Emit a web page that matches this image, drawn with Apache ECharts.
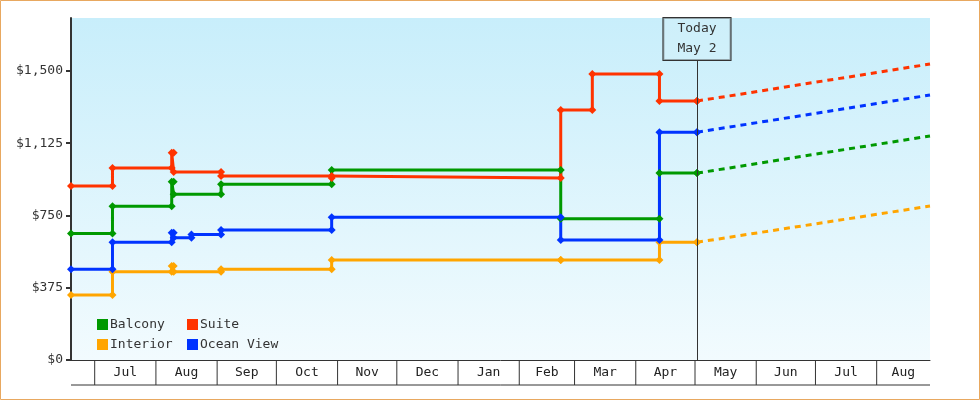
<!DOCTYPE html>
<html><head><meta charset="utf-8">
<script src="https://cdn.jsdelivr.net/npm/echarts@6/dist/echarts.min.js"></script>
<style>html,body{margin:0;padding:0;background:#fff}#c{width:980px;height:400px}</style>
</head><body><div id="c"></div>
<script>
const suiteDates = ['2024-06-19','2024-07-10','2024-08-09','2024-08-10','2024-09-03','2024-10-29','2025-02-22','2025-03-10','2025-04-13','2025-05-02'];
const suiteVals  = [903, 997, 1075, 976, 955, 945, 1298, 1484, 1344, 1344];
const balconyDates = ['2024-06-19','2024-07-10','2024-08-09','2024-08-10','2024-09-03','2024-10-29','2025-02-22','2025-04-13','2025-05-02'];
const balconyVals  = [657, 798, 925, 860, 912, 986, 733, 970, 970];
const oceanDates = ['2024-06-19','2024-07-10','2024-08-09','2024-08-10','2024-08-19','2024-09-03','2024-10-29','2025-02-22','2025-04-13','2025-05-02'];
const oceanVals  = [471, 611, 660, 635, 652, 675, 741, 623, 1182, 1182];
const interiorDates = ['2024-06-19','2024-07-10','2024-08-09','2024-08-10','2024-09-03','2024-10-29','2025-02-22','2025-04-13','2025-05-02'];
const interiorVals  = [337, 458, 488, 458, 471, 519, 519, 611, 611];
const forecastEnd = '2025-08-28';
const forecastVals = {Suite: 1536, Balcony: 1163, 'Ocean View': 1375, Interior: 799};
const today = '2025-05-02';
const monthStarts = ['2024-07-01','2024-08-01','2024-09-01','2024-10-01','2024-11-01','2024-12-01','2025-01-01','2025-02-01','2025-03-01','2025-04-01','2025-05-01','2025-06-01','2025-07-01','2025-08-01','2025-08-28'];
const monthLabels = ['Jul','Aug','Sep','Oct','Nov','Dec','Jan','Feb','Mar','Apr','May','Jun','Jul','Aug'];
const yTicks = [0, 375, 750, 1125, 1500];

const colors = {Balcony:'#009900', Suite:'#ff3300', Interior:'#ffa500', 'Ocean View':'#0033ff'};
const font = 'DejaVu Sans Mono';
function ts(d){ return new Date(d + 'T00:00:00Z').getTime(); }
function stepPts(dates, vals){
  const out = [];
  dates.forEach((d,i)=>{ if(i>0) out.push([ts(d), vals[i-1]]); out.push([ts(d), vals[i]]); });
  return out;
}
const defs = [['Balcony',balconyDates,balconyVals],['Suite',suiteDates,suiteVals],['Interior',interiorDates,interiorVals],['Ocean View',oceanDates,oceanVals]];
const series = [];
defs.forEach(([name,d,v])=>{
  series.push({name, type:'line', data:stepPts(d,v), color:colors[name], symbol:'diamond', symbolSize:8,
    lineStyle:{width:3}, itemStyle:{color:colors[name]}, animation:false, z:3});
  series.push({name:name+'_f', type:'line', data:[[ts(today), v[v.length-1]],[ts(forecastEnd), forecastVals[name]]],
    symbol:'none', lineStyle:{width:3, type:[6,5], color:colors[name]}, animation:false, z:2});
});
series.push({type:'line', data:[], animation:false,
  markLine:{silent:true, symbol:'none', animation:false,
    lineStyle:{color:'#333', width:1, type:'solid'},
    label:{show:true, position:'end', distance:0, formatter:'Today\nMay 2', fontFamily:font, fontSize:13, color:'#333', lineHeight:20,
      borderColor:'#333', borderWidth:1, padding:[1,14], backgroundColor:'rgba(210,240,250,0.6)'},
    data:[[{coord:[ts(today),0]},{coord:[ts(today),1557]}]]}});
// bottom month box
series.push({type:'custom', clip:false, silent:true, animation:false, z:5,
  data: monthStarts.map((d,i)=>[ts(d), i]),
  renderItem:function(params, api){
    const i = api.value(1);
    const p = api.coord([api.value(0), 0]);
    const children = [];
    if (i < monthStarts.length-1) children.push({type:'line', shape:{x1:p[0],y1:p[1],x2:p[0],y2:p[1]+25}, style:{stroke:'#333', lineWidth:1}});
    if (i < monthLabels.length){
      const q = api.coord([ts(monthStarts[i+1]), 0]);
      children.push({type:'text', x:(p[0]+q[0])/2, y:p[1]+13, style:{text:monthLabels[i], fill:'#222', font:'13px '+font, align:'center', verticalAlign:'middle'}});
    }
    if (i === 0){
      const a = api.coord([ts('2024-06-19'),0]), b = api.coord([ts(forecastEnd),0]);
      children.push({type:'line', shape:{x1:a[0],y1:a[1]+25,x2:b[0],y2:b[1]+25}, style:{stroke:'#333', lineWidth:1}});
    }
    return {type:'group', children};
  }});

const chart = echarts.init(document.getElementById('c'));
chart.setOption({
  backgroundColor:'#fff',
  animation:false,
  graphic:[{type:'rect', shape:{x:0.5,y:0.5,width:979,height:399}, style:{fill:'none', stroke:'#e8a860', lineWidth:1}, z:-1}],
  grid:{left:71, right:50, top:18, bottom:40, show:true, borderWidth:0,
    backgroundColor:new echarts.graphic.LinearGradient(0,0,0,1,[{offset:0,color:'#c8eefb'},{offset:1,color:'#f2fbfe'}])},
  legend:[
    {data:['Balcony','Interior'], orient:'vertical', left:92, top:313, itemWidth:11, itemHeight:11, itemGap:7, icon:'rect',
      textStyle:{fontFamily:font, fontSize:13, color:'#333', padding:[0,0,0,-3]}},
    {data:['Suite','Ocean View'], orient:'vertical', left:182, top:313, itemWidth:11, itemHeight:11, itemGap:7, icon:'rect',
      textStyle:{fontFamily:font, fontSize:13, color:'#333', padding:[0,0,0,-3]}}
  ],
  xAxis:{type:'time', min:ts('2024-06-19'), max:ts(forecastEnd), axisLabel:{show:false}, axisTick:{show:false},
    splitLine:{show:false}, axisLine:{lineStyle:{color:'#333', width:1}}},
  yAxis:{type:'value', min:0, max:1775, interval:375,
    axisLine:{show:true, lineStyle:{color:'#333', width:2}},
    axisTick:{show:true, length:5, lineStyle:{color:'#333', width:2}},
    splitLine:{show:false},
    axisLabel:{showMaxLabel:false, fontFamily:font, fontSize:13, color:'#333', margin:8,
      formatter:v=> yTicks.includes(v) ? '$' + v.toLocaleString('en-US') : ''}},
  series
});
</script></body></html>
